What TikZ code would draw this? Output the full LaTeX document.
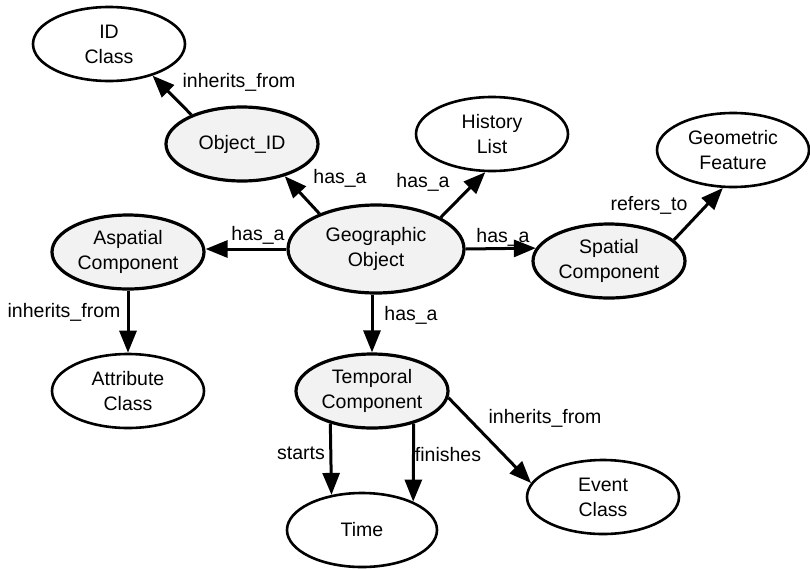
\documentclass[tikz,border=0pt]{standalone}
\usepackage{fontspec}
\setmainfont{Liberation Sans}
\usetikzlibrary{shapes.geometric,arrows.meta}
\tikzset{
  plainnode/.style={ellipse, draw, line width=2.6pt, inner sep=0pt,
    minimum width=152pt, minimum height=74pt, align=center,
    font=\fontsize{19.5}{25}\selectfont},
  stipnode/.style={plainnode, line width=3.2pt, fill=black!5},
  arr/.style={line width=3pt, -{Triangle[length=22pt,width=17pt]}},
  lbl/.style={inner sep=0pt, font=\fontsize{19.5}{25}\selectfont}
}
\begin{document}
\begin{tikzpicture}[x=1pt,y=-1pt]
\useasboundingbox (0,0) rectangle (810,568);
% nodes
\node[plainnode] (ic) at (109,44) {ID\\Class};
\node[stipnode] (oid) at (242,144) {Object\_ID};
\node[plainnode] (hl) at (492,134) {History\\List};
\node[plainnode] (gf) at (733,150) {Geometric\\Feature};
\node[stipnode] (asp) at (128,252) {Aspatial\\Component};
\node[stipnode, minimum width=176pt, minimum height=88pt] (go) at (376,249) {Geographic\\Object};
\node[stipnode] (sp) at (609,261) {Spatial\\Component};
\node[plainnode] (att) at (128,391) {Attribute\\Class};
\node[stipnode] (tc) at (372,391) {Temporal\\Component};
\node[plainnode, minimum width=150pt] (tm) at (362,530) {Time};
\node[plainnode] (ev) at (603,497) {Event\\Class};
% connectors
\draw[arr] (oid.150) -- (ic.324);
\draw[arr] (go.148) -- (oid.323);
\draw[arr] (go.26) -- (hl.260);
\draw[arr] (go.west) -- (go.west -| asp.east);
\draw[arr] (go.east) -- (sp.170);
\draw[arr] (sp.18) -- (gf.255);
\draw[arr] (asp.south) -- (att.north);
\draw[arr] (go.south -| tc.north) -- (tc.north);
\draw[arr] (tc.218) -- (tm.131);
\draw[arr] (tc.322) -- (tm.29);
\draw[arr] (tc.355) -- (ev.169);
% labels
\node[lbl] (l1) at (239,82) {inherits\_from};
\node[lbl] (l2) at (340,178) {has\_a};
\node[lbl] (l3) at (423,182) {has\_a};
\node[lbl] (l4) at (258,235) {has\_a};
\node[lbl] (l5) at (503,237) {has\_a};
\node[lbl] (l6) at (649,205) {refers\_to};
\node[lbl] (l7) at (64,312) {inherits\_from};
\node[lbl] (l8) at (411,315) {has\_a};
\node[lbl] (l9) at (301,453) {starts};
\node[lbl] (l10) at (448,455) {finishes};
\node[lbl] (l11) at (545,418) {inherits\_from};
\end{tikzpicture}
\end{document}
